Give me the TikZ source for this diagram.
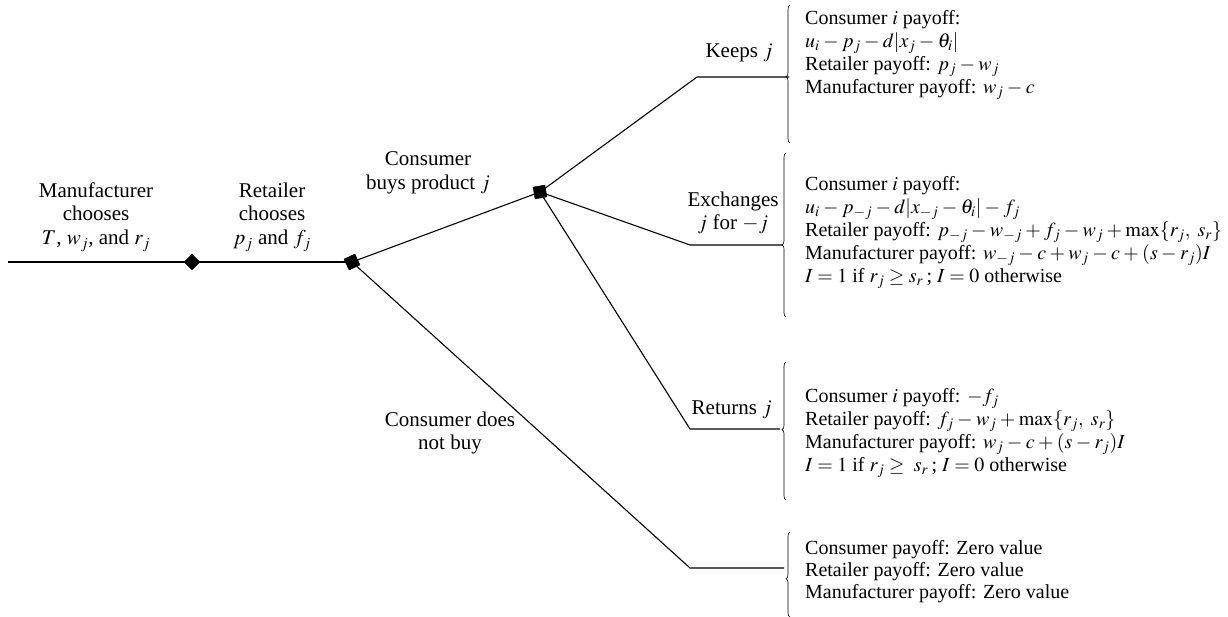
\documentclass[tikz,border=0pt]{standalone}
\usepackage{mathptmx}
\usepackage{fontspec}
\setmainfont{Liberation Serif}
\usetikzlibrary{shapes.geometric,decorations.pathreplacing}
\AtBeginDocument{\medmuskip=3mu plus 1mu\relax\thickmuskip=4mu plus 2mu\relax}
\tikzset{
  edge/.style={line width=1.1pt},
  dec/.style={fill=black, draw=black, inner sep=0pt},
  lbl/.style={inner sep=0pt, align=center, font=\fontsize{21pt}{23pt}\selectfont},
  pay/.style={inner sep=0pt, anchor=base west, font=\fontsize{20pt}{23pt}\selectfont},
  br/.style={line width=0.6pt, decorate, decoration={brace, amplitude=4pt, aspect=#1}}
}
\begin{document}
\begin{tikzpicture}[x=1pt,y=-1pt]
\useasboundingbox (0,0) rectangle (1228,617);
% decision nodes
\coordinate (s) at (8,262);
\node[dec, diamond, minimum size=16pt] (d1) at (192,262) {};
\node[dec, regular polygon, regular polygon sides=4, minimum size=17pt, rotate=25] (d2) at (352,262) {};
\node[dec, regular polygon, regular polygon sides=4, minimum size=17pt, rotate=10] (d3) at (540,192) {};
% branch corner points
\coordinate (kb) at (697,77);  \coordinate (ke) at (789,77);
\coordinate (xb) at (690,245); \coordinate (xe) at (782,245);
\coordinate (rb) at (690,429); \coordinate (re) at (780,429);
\coordinate (nb) at (690,568); \coordinate (ne) at (784,568);
% connectors
\draw[edge] (s) -- (d1.center) -- (d2.center);
\draw[edge] (d2.center) -- (d3.center);
\draw[edge] (d2.center) -- (nb) -- (ne);
\draw[edge] (d3.center) -- (kb) -- (ke);
\draw[edge] (d3.center) -- (xb) -- (xe);
\draw[edge] (d3.center) -- (rb) -- (re);
% stage labels
\node[lbl, anchor=base] (m1) at (96,198) {Manufacturer};
\node[lbl, anchor=base] (m2) at (96,221) {chooses};
\node[lbl, anchor=base] (m3) at (96,245) {$T$, $w_j$, and $r_j$};
\node[lbl, anchor=base] (r1) at (272,198) {Retailer};
\node[lbl, anchor=base] (r2) at (272,221) {chooses};
\node[lbl, anchor=base] (r3) at (272,245) {$p_j$ and $f_j$};
\node[lbl, anchor=base] (c1) at (428,166) {Consumer};
\node[lbl, anchor=base] (c2) at (428,190) {buys product $j$};
\node[lbl, anchor=base] (n1) at (450,426) {Consumer does};
\node[lbl, anchor=base] (n2) at (450,449) {not buy};
% branch labels
\node[lbl, anchor=base east] (kl) at (773,58) {Keeps $j$};
\node[lbl, anchor=base] (xl1) at (733,207) {Exchanges};
\node[lbl, anchor=base] (xl2) at (733,230) {$j$ for $-j$};
\node[lbl, anchor=base east] (rl) at (772,414) {Returns $j$};
% braces
\draw[br=0.48] (790,143) -- (790,5);
\draw[br=0.44] (786,317) -- (786,153);
\draw[br=0.51] (786,500) -- (786,362);
\draw[br=0.45] (790,617) -- (790,532);
% payoffs: keeps
\node[pay] (k1) at (805,25) {Consumer $i$ payoff:};
\node[pay] (k2) at (805,48) {$u_i - p_j - d|x_j - \theta_i|$};
\node[pay] (k3) at (805,71) {Retailer payoff: $p_j - w_j$};
\node[pay] (k4) at (805,94) {Manufacturer payoff: $w_j - c$};
% payoffs: exchanges
\node[pay] (x1) at (805,191) {Consumer $i$ payoff:};
\node[pay] (x2) at (805,214) {$u_i - p_{-j} - d|x_{-j} - \theta_i| - f_j$};
\node[pay] (x3) at (805,237) {Retailer payoff: $p_{-j} - w_{-j} + f_j - w_j + \max\{r_j,\ s_r\}$};
\node[pay] (x4) at (805,260) {Manufacturer payoff: $w_{-j} - c + w_j - c + (s - r_j)I$};
\node[pay] (x5) at (805,283) {$I = 1$ if $r_j \geq s_r$\,; $I = 0$ otherwise};
% payoffs: returns
\node[pay] (t1) at (805,402) {Consumer $i$ payoff: $-f_j$};
\node[pay] (t2) at (805,425) {Retailer payoff: $f_j - w_j + \max\{r_j,\ s_r\}$};
\node[pay] (t3) at (805,448) {Manufacturer payoff: $w_j - c + (s - r_j)I$};
\node[pay] (t4) at (805,471) {$I = 1$ if $r_j \geq\ s_r$\,; $I = 0$ otherwise};
% payoffs: no purchase
\node[pay] (z1) at (805,554) {Consumer payoff: Zero value};
\node[pay] (z2) at (805,576) {Retailer payoff: Zero value};
\node[pay] (z3) at (805,598) {Manufacturer payoff: Zero value};
\end{tikzpicture}
\end{document}
